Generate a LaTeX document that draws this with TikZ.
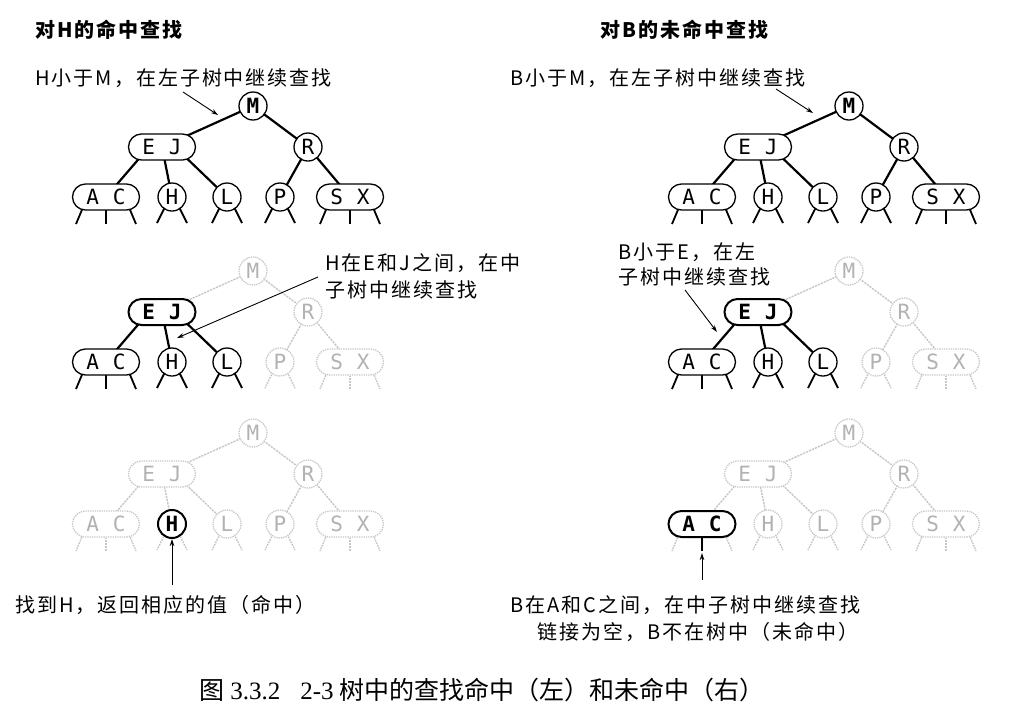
\documentclass[tikz,border=0pt]{standalone}
\usepackage{fontspec}
\setmonofont{DejaVu Sans Mono}
\newfontfamily\cjk[LetterSpace=10]{Noto Sans CJK SC}
\newfontfamily\cjkplain{Noto Sans CJK SC}
\newfontfamily\serifdig{Liberation Serif}
\usetikzlibrary{shapes.misc,arrows.meta,calc}
\pgfdeclarelayer{bg}\pgfdeclarelayer{links}\pgfsetlayers{bg,links,main}
\newcommand\kgap{\hspace{14pt}}
\tikzset{
 base/.style={draw, fill=white, line width=1.3pt, inner sep=0pt,
   font=\ttfamily\fontsize{21}{21}\selectfont},
 cnode/.style={base, circle, minimum size=28pt},
 rnode/.style={base, rounded rectangle, minimum width=67pt, minimum height=26pt},
 ghost/.style={draw=black!22, densely dotted, text=black!30},
 bnode/.style={line width=2pt, font=\ttfamily\bfseries\fontsize{21}{21}\selectfont},
 bM/.style={font=\ttfamily\bfseries\fontsize{21}{21}\selectfont},
 lnk/.style={line width=2.2pt},
 gedge/.style={draw=black!22, densely dotted, line width=1.4pt},
 stb/.style={line width=1.8pt},
 lab/.style={-{Stealth[length=7pt,width=4.5pt]}, line width=0.9pt},
 lbl/.style={inner sep=0pt, anchor=west, align=left,
   font=\cjk\fontsize{20}{27}\selectfont},
 ttl/.style={inner sep=0pt, anchor=west, font=\cjk\bfseries\fontsize{20}{25}\selectfont},
 sM/.style={},sEJ/.style={},sR/.style={},sAC/.style={},sH/.style={},sL/.style={},sP/.style={},sSX/.style={},
 eEJ/.style={},eR/.style={},eAC/.style={},eH/.style={},eL/.style={},eP/.style={},eSX/.style={},
 tAC/.style={},tACm/.style={},tH/.style={},tL/.style={},tP/.style={},tSX/.style={},
 toppanel/.style={sM/.style={bM}},
 midpanel/.style={sM/.style={ghost},sR/.style={ghost},sP/.style={ghost},sSX/.style={ghost},
   sEJ/.style={bnode},eEJ/.style={gedge},eR/.style={gedge},eP/.style={gedge},eSX/.style={gedge},
   tP/.style={gedge},tSX/.style={gedge}},
 allghost/.style={sM/.style={ghost},sEJ/.style={ghost},sR/.style={ghost},sAC/.style={ghost},
   sH/.style={ghost},sL/.style={ghost},sP/.style={ghost},sSX/.style={ghost},
   eEJ/.style={gedge},eR/.style={gedge},eAC/.style={gedge},eH/.style={gedge},eL/.style={gedge},
   eP/.style={gedge},eSX/.style={gedge},
   tAC/.style={gedge},tACm/.style={gedge},tH/.style={gedge},tL/.style={gedge},tP/.style={gedge},tSX/.style={gedge}}
}
\newcommand\ttree[3]{%
\begin{scope}[shift={(#2,#3)}]
\node[cnode,sM] (#1M) at (253,106) {M};
\node[rnode,sEJ] (#1EJ) at (162,147) {E\kgap J};
\node[cnode,sR] (#1R) at (308,147) {R};
\node[rnode,sAC] (#1AC) at (106,197) {A\kgap C};
\node[cnode,sH] (#1H) at (172,197) {H};
\node[cnode,sL] (#1L) at (227,197) {L};
\node[cnode,sP] (#1P) at (280,197) {P};
\node[rnode,sSX] (#1SX) at (350,197) {S\kgap X};
\begin{pgfonlayer}{links}
\draw[lnk,eEJ] (#1M.center) -- (#1EJ.center);
\draw[lnk,eR] (#1M.center) -- (#1R.center);
\draw[lnk,eAC] ([xshift=-13pt]#1EJ.center) -- (#1AC.center);
\draw[lnk,eH] (#1EJ.center) -- (#1H.center);
\draw[lnk,eL] ([xshift=13pt]#1EJ.center) -- (#1L.center);
\draw[lnk,eP] (#1R.center) -- (#1P.center);
\draw[lnk,eSX] (#1R.center) -- (#1SX.center);
\draw[stb,tAC] ($(#1AC.center)+(-22,8)$) -- ++(-8,19);
\draw[stb,tACm] ($(#1AC.center)+(0,8)$) -- ++(0,19);
\draw[stb,tAC] ($(#1AC.center)+(22,8)$) -- ++(8,19);
\draw[stb,tH] ($(#1H.center)+(-7,10)$) -- ++(-8,16);
\draw[stb,tH] ($(#1H.center)+(7,10)$) -- ++(8,16);
\draw[stb,tL] ($(#1L.center)+(-7,10)$) -- ++(-8,16);
\draw[stb,tL] ($(#1L.center)+(7,10)$) -- ++(8,16);
\draw[stb,tP] ($(#1P.center)+(-7,10)$) -- ++(-8,16);
\draw[stb,tP] ($(#1P.center)+(7,10)$) -- ++(8,16);
\draw[stb,tSX] ($(#1SX.center)+(-22,8)$) -- ++(-8,19);
\draw[stb,tSX] ($(#1SX.center)+(0,8)$) -- ++(0,19);
\draw[stb,tSX] ($(#1SX.center)+(22,8)$) -- ++(8,19);
\end{pgfonlayer}
\end{scope}}
\begin{document}
\begin{tikzpicture}[x=1pt,y=-1pt]
\useasboundingbox (0,0) rectangle (1010,710);
\begin{pgfonlayer}{bg}\fill[white] (0,0) rectangle (1010,710);\end{pgfonlayer}
% trees
\begin{scope}[toppanel]\ttree{a}{0}{0}\end{scope}
\begin{scope}[midpanel]\ttree{b}{0}{165}\end{scope}
\begin{scope}[allghost,sH/.style={bnode}]\ttree{c}{0}{327}\end{scope}
\begin{scope}[toppanel]\ttree{d}{596}{0}\end{scope}
\begin{scope}[midpanel]\ttree{e}{596}{165}\end{scope}
\begin{scope}[allghost,sAC/.style={bnode},tACm/.style={line width=2.4pt}]\ttree{f}{596}{327}\end{scope}
% titles
\node[ttl] (t1) at (35,30) {对H的命中查找};
\node[ttl] (t2) at (600,30) {对B的未命中查找};
% labels
\node[lbl] (l1) at (35,78) {H小于M，在左子树中继续查找};
\coordinate (l1s) at (183,92); \coordinate (l1e) at (218,115);
\draw[lab] (l1s) -- (l1e);
\node[lbl] (r1) at (510,78) {B小于M，在左子树中继续查找};
\coordinate (r1s) at (776,89); \coordinate (r1e) at (813,113);
\draw[lab] (r1s) -- (r1e);
\node[lbl] (l2) at (325,276) {H在E和J之间，在中\\子树中继续查找};
\coordinate (l2s) at (318,277); \coordinate (l2e) at (177,338);
\draw[lab] (l2s) -- (l2e);
\node[lbl,font=\cjk\fontsize{20}{25}\selectfont] (r2) at (618,264) {B小于E，在左\\子树中继续查找};
\coordinate (r2s) at (685,290); \coordinate (r2e) at (717,332);
\draw[lab] (r2s) -- (r2e);
\node[lbl] (l3) at (15,605) {找到H，返回相应的值（命中）};
\coordinate (l3s) at (172,585);
\draw[lab] (l3s) -- (cH.south);
\node[lbl] (r3) at (510,619) {B在A和C之间，在中子树中继续查找\\\hspace*{27pt}链接为空，B不在树中（未命中）};
\coordinate (r3s) at (702,580); \coordinate (r3e) at (702,553);
\draw[lab] (r3s) -- (r3e);
% caption
\node[inner sep=0pt,font=\cjkplain\fontsize{25}{25}\selectfont] (cap) at (482,690)
 {图 {\serifdig 3.3.2}\hspace{20pt}{\serifdig 2-3} 树中的查找命中（左）和未命中（右）};
\end{tikzpicture}
\end{document}
